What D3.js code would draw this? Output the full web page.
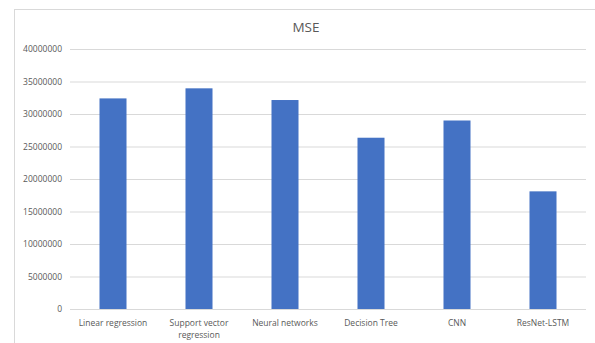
<!DOCTYPE html>
<html><head><meta charset="utf-8">
<script src="https://cdn.jsdelivr.net/npm/d3@7"></script>
<style>body{margin:0;background:#fff;}svg{display:block;font-family:"Open Sans",sans-serif;}</style>
</head><body>
<svg id="c" width="595" height="343"></svg>
<script>
const categories = ["Linear regression", "Support vector regression", "Neural networks", "Decision Tree", "CNN", "ResNet-LSTM"];
const categoryLines = [["Linear regression"], ["Support vector", "regression"], ["Neural networks"], ["Decision Tree"], ["CNN"], ["ResNet-LSTM"]];
const mseValues = [32400000, 33950000, 32150000, 26350000, 29000000, 18100000];
const yTicks = [0, 5000000, 10000000, 15000000, 20000000, 25000000, 30000000, 35000000, 40000000];
const title = "MSE";

const svg = d3.select("#c");
const W = 595, H = 343;
const m = {left: 70, right: 9, top: 49, bottom: 34};
const x = d3.scaleBand().domain(categories).range([m.left, W - m.right]).paddingInner(0.686).paddingOuter(0.343);
const y = d3.scaleLinear().domain([0, 40000000]).range([H - m.bottom, m.top]);

// chart border
svg.append("rect").attr("x", 14.5).attr("y", 9.5).attr("width", 590).attr("height", 340)
  .attr("fill", "none").attr("stroke", "#d9d9d9").attr("stroke-width", 1);

// title
svg.append("text").attr("x", 306).attr("y", 32).attr("text-anchor", "middle")
  .attr("font-size", 13.5).attr("fill", "#595959").text(title);

// gridlines
const yAxis = d3.axisLeft(y).tickValues(yTicks).tickSize(-(W - m.left - m.right)).tickPadding(8).tickFormat(d3.format("d"));
const gy = svg.append("g").attr("transform", `translate(${m.left},0)`).call(yAxis);
gy.select(".domain").remove();
gy.selectAll(".tick line").attr("stroke", "#d9d9d9").attr("stroke-width", 1);
gy.selectAll(".tick text").attr("fill", "#595959").attr("font-size", 8.5).attr("font-family", "Open Sans");

// bars
svg.append("g").selectAll("rect").data(mseValues).join("rect")
  .attr("x", (d, i) => x(categories[i]))
  .attr("width", x.bandwidth())
  .attr("y", d => y(d))
  .attr("height", d => y(0) - y(d))
  .attr("fill", "#4472c4");

// x labels
const xl = svg.append("g");
categories.forEach((c, i) => {
  const t = xl.append("text").attr("x", x(c) + x.bandwidth() / 2).attr("y", 326)
    .attr("text-anchor", "middle").attr("font-size", 8.5).attr("fill", "#595959");
  categoryLines[i].forEach((ln, j) => {
    t.append("tspan").attr("x", x(c) + x.bandwidth() / 2).attr("dy", j === 0 ? 0 : 11.5).text(ln);
  });
});
</script>
</body></html>
